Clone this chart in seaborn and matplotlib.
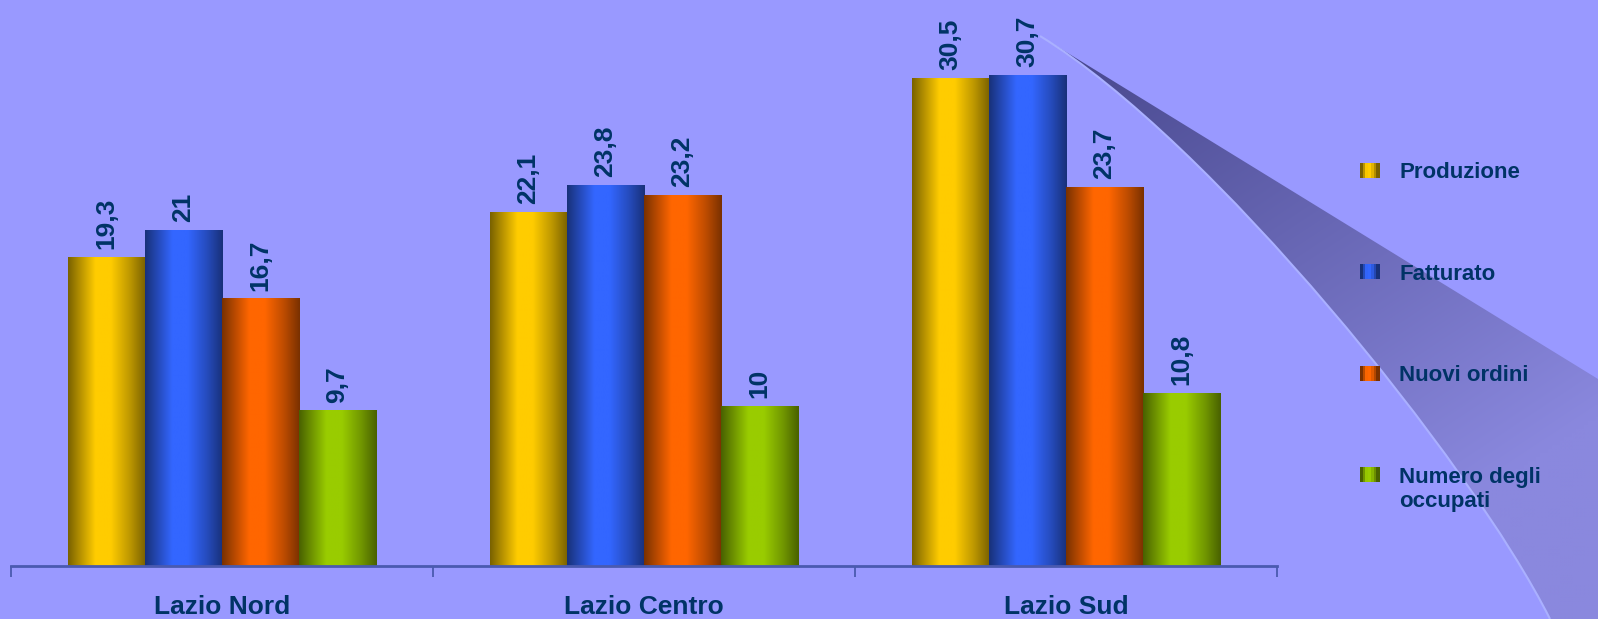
import numpy as np
import pandas as pd
import matplotlib
matplotlib.use("Agg")
import matplotlib.pyplot as plt
import seaborn as sns
from matplotlib.path import Path
from matplotlib.patches import PathPatch, Patch, Rectangle
from matplotlib.legend_handler import HandlerBase
from matplotlib.colors import to_rgb

# dati
aree = ["Lazio Nord", "Lazio Centro", "Lazio Sud"]
serie = ["Produzione", "Fatturato", "Nuovi ordini", "Numero degli\noccupati"]
produzione = [19.3, 22.1, 30.5]
fatturato = [21.0, 23.8, 30.7]
nuovi_ordini = [16.7, 23.2, 23.7]
occupati = [9.7, 10.0, 10.8]
colori = ["#FFCC00", "#3366FF", "#FF6600", "#99CC00"]

SFONDO = "#9999FF"
TESTO = "#003366"
ASSE = "#4a5ab0"
FONT = "Liberation Sans"
W, H = 1598, 619

df = pd.DataFrame({
    "area": aree * 4,
    "serie": np.repeat(serie, len(aree)),
    "valore": produzione + fatturato + nuovi_ordini + occupati,
})

# profilo di luce per l'effetto cilindro
def profilo(t):
    return np.interp(t, [0, 0.12, 0.35, 0.55, 0.8, 1], [0, 0.35, 1, 1, 0.5, 0])


class ManigliaCilindro(HandlerBase):
    """Quadratino della legenda a strisce, come le barre."""
    def create_artists(self, legend, orig_handle, xdescent, ydescent,
                       width, height, fontsize, trans):
        base = np.array(orig_handle.get_facecolor()[:3])
        scuro = base * 0.48
        dy = 0.68 * fontsize if orig_handle.get_gid() == "due_righe" else 0
        n = 7
        pezzi = []
        for i, m in enumerate(profilo(np.linspace(0, 1, n))):
            r = Rectangle((-xdescent + i * width / n, -ydescent + dy), width / n + 0.3, height,
                          facecolor=scuro + (base - scuro) * m, edgecolor="none", transform=trans)
            pezzi.append(r)
        return pezzi


fig = plt.figure(figsize=(W / 100, H / 100), dpi=100, facecolor=SFONDO)

# fascia decorativa sullo sfondo
bg = fig.add_axes([0, 0, 1, 1], zorder=0)
bg.axis("off")
verts = [(1040, 36), (1598, 379), (1598, 619), (1550, 619),
         (1470, 460), (1210, 140), (1040, 36), (1040, 36)]
codes = [Path.MOVETO, Path.LINETO, Path.LINETO, Path.LINETO,
         Path.CURVE4, Path.CURVE4, Path.CURVE4, Path.CLOSEPOLY]
fascia = PathPatch(Path(verts, codes), facecolor="none", edgecolor="none")
bg.add_patch(fascia)
gy, gx = np.mgrid[0:H:4, 0:W:4]
s = np.clip(((gx - 1040) * 0.55 + (gy - 36) * 0.83) / 620, 0, 1)
c0, c1 = np.array(to_rgb("#45458a")), np.array(to_rgb("#8a88de"))
img = c0 + (c1 - c0) * s[..., None]
im = bg.imshow(img, extent=[0, W, H, 0], interpolation="bilinear", aspect="auto")
im.set_clip_path(fascia)
bordo = Path([(1550, 619), (1470, 460), (1210, 140), (1040, 36)],
             [Path.MOVETO, Path.CURVE4, Path.CURVE4, Path.CURVE4])
bg.add_patch(PathPatch(bordo, facecolor="none", edgecolor="#aab0ff", lw=1.5))
bg.set_xlim(0, W)
bg.set_ylim(H, 0)

# grafico a barre
ax = fig.add_axes([11 / W, 1 - 566 / H, (1277 - 11) / W, 566 / H], zorder=1)
ax.set_facecolor("none")
sns.barplot(data=df, x="area", y="valore", hue="serie", order=aree, hue_order=serie,
            palette=colori, width=0.73, saturation=1, legend=False, ax=ax)

t = np.linspace(0, 1, 80)
for bar in ax.patches:
    base = np.array(bar.get_facecolor()[:3])
    scuro = base * 0.48
    grad = scuro + (base - scuro) * profilo(t)[:, None]
    x0, w, h = bar.get_x(), bar.get_width(), bar.get_height()
    ax.imshow(grad[None, :, :], extent=[x0, x0 + w, 0, h], aspect="auto",
              interpolation="bilinear", zorder=bar.get_zorder() + 0.1)

for cont in ax.containers:
    etichette = [f"{v:g}".replace(".", ",") for v in cont.datavalues]
    ax.bar_label(cont, labels=etichette, rotation=90, padding=6, color=TESTO,
                 fontsize=19, fontweight="bold", family=FONT)

ax.set_xlim(-0.5, 2.5)
ax.set_ylim(0, 35.4)
ax.set_xlabel("")
ax.set_ylabel("")
ax.set_yticks([])
ax.set_xticks(range(len(aree)))
ax.set_xticklabels(aree, fontsize=19, fontweight="bold", color=TESTO, family=FONT)
ax.set_xticks([-0.5, 0.5, 1.5, 2.5], minor=True)
ax.tick_params(axis="x", which="major", length=0, pad=21)
ax.tick_params(axis="x", which="minor", length=8, width=1.3, color=ASSE, direction="out")
for lato in ["top", "right", "left"]:
    ax.spines[lato].set_visible(False)
ax.spines["bottom"].set_color(ASSE)
ax.spines["bottom"].set_linewidth(2)

maniglie = [Patch(facecolor=c) for c in colori]
maniglie[-1].set_gid("due_righe")
fig.legend(maniglie, serie, loc="upper left", bbox_to_anchor=(1360 / W, 1 - 162 / H),
           frameon=False, borderpad=0, borderaxespad=0, labelspacing=3.63,
           handlelength=0.86, handleheight=0.66, handletextpad=0.9,
           handler_map={Patch: ManigliaCilindro()},
           labelcolor=TESTO, prop={"family": FONT, "weight": "bold", "size": 16})

fig.savefig("out.png", dpi=100, facecolor=SFONDO)
